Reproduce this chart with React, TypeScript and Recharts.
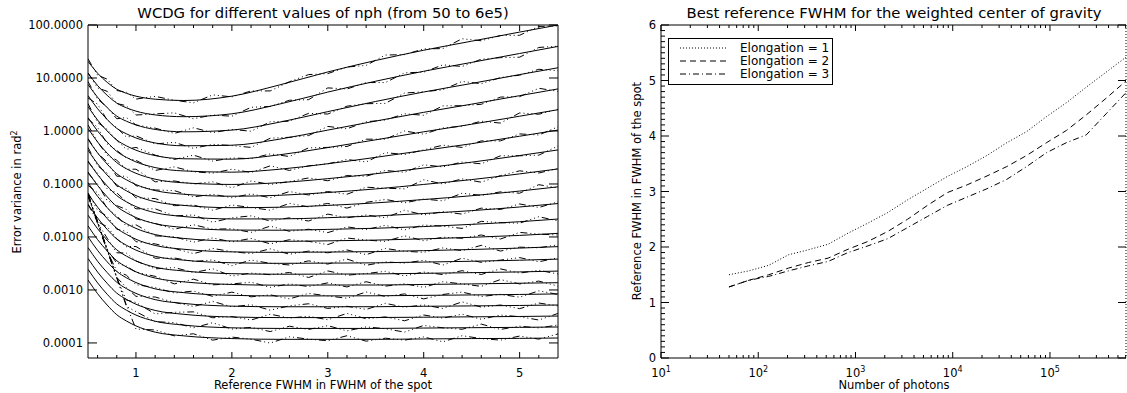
import React from "react";
import { LineChart, Line, XAxis, YAxis, Legend } from "recharts";

// ---- left panel: WCDG error variance vs reference FWHM, one pair of curves per nph ----
const fwhmFit = [0.5, 0.6, 0.7, 0.8, 0.9, 1.0, 1.2, 1.5, 2.0, 2.5, 3.0, 3.5, 4.0, 4.5, 5.0, 5.4];

// theoretical curves (solid), nph = 50 ... 6e5
const fitCurves: number[][] = [
  [20.6, 12.3, 8.28, 6.12, 5.14, 4.54, 3.98, 3.76, 4.54, 7.42, 13.0, 21.4, 33.4, 49.5, 73.5, 99.9],
  [12.4, 7.21, 4.71, 3.36, 2.74, 2.37, 2.01, 1.86, 2.11, 3.23, 5.42, 8.7, 13.4, 19.7, 29.0, 39.4],
  [7.58, 4.32, 2.76, 1.91, 1.53, 1.3, 1.07, 0.964, 1.04, 1.47, 2.32, 3.61, 5.44, 7.89, 11.6, 15.6],
  [4.66, 2.63, 1.65, 1.12, 0.885, 0.739, 0.594, 0.526, 0.539, 0.703, 1.04, 1.54, 2.25, 3.21, 4.64, 6.22],
  [2.89, 1.61, 1.0, 0.675, 0.525, 0.434, 0.343, 0.299, 0.294, 0.356, 0.486, 0.681, 0.964, 1.34, 1.9, 2.52],
  [1.79, 0.999, 0.617, 0.411, 0.318, 0.261, 0.204, 0.176, 0.167, 0.19, 0.241, 0.318, 0.428, 0.576, 0.796, 1.04],
  [1.12, 0.62, 0.381, 0.253, 0.194, 0.159, 0.123, 0.105, 0.098, 0.106, 0.126, 0.156, 0.2, 0.258, 0.344, 0.439],
  [0.697, 0.386, 0.237, 0.156, 0.12, 0.0974, 0.0751, 0.064, 0.0587, 0.0612, 0.069, 0.0807, 0.098, 0.121, 0.155, 0.192],
  [0.435, 0.241, 0.147, 0.0971, 0.0743, 0.0603, 0.0463, 0.0394, 0.0357, 0.0364, 0.0394, 0.044, 0.0509, 0.06, 0.0735, 0.0883],
  [0.271, 0.15, 0.0918, 0.0604, 0.0461, 0.0374, 0.0287, 0.0243, 0.0219, 0.0219, 0.0231, 0.0249, 0.0277, 0.0314, 0.0368, 0.0427],
  [0.169, 0.0937, 0.0573, 0.0376, 0.0287, 0.0233, 0.0178, 0.0151, 0.0135, 0.0134, 0.0139, 0.0146, 0.0157, 0.0173, 0.0194, 0.0218],
  [0.106, 0.0585, 0.0358, 0.0235, 0.0179, 0.0145, 0.0111, 0.00939, 0.0084, 0.00826, 0.00845, 0.00872, 0.00922, 0.00985, 0.0107, 0.0117],
  [0.0661, 0.0365, 0.0223, 0.0146, 0.0112, 0.00905, 0.00692, 0.00586, 0.00523, 0.00512, 0.00519, 0.00529, 0.00552, 0.0058, 0.00617, 0.00657],
  [0.0414, 0.0228, 0.0139, 0.00915, 0.00698, 0.00565, 0.00431, 0.00365, 0.00326, 0.00318, 0.00321, 0.00325, 0.00336, 0.00348, 0.00364, 0.00382],
  [0.0258, 0.0143, 0.00872, 0.00572, 0.00436, 0.00353, 0.00269, 0.00228, 0.00203, 0.00198, 0.00199, 0.00201, 0.00206, 0.00212, 0.00219, 0.00227],
  [0.0162, 0.00892, 0.00545, 0.00357, 0.00272, 0.0022, 0.00168, 0.00142, 0.00127, 0.00123, 0.00124, 0.00124, 0.00127, 0.0013, 0.00134, 0.00137],
  [0.0101, 0.00557, 0.0034, 0.00223, 0.0017, 0.00138, 0.00105, 0.000889, 0.000791, 0.000771, 0.000773, 0.000776, 0.00079, 0.000805, 0.000823, 0.000842],
  [0.00631, 0.00348, 0.00213, 0.0014, 0.00106, 0.000861, 0.000657, 0.000556, 0.000495, 0.000482, 0.000482, 0.000483, 0.000492, 0.0005, 0.00051, 0.00052],
  [0.00394, 0.00218, 0.00133, 0.000872, 0.000665, 0.000538, 0.000411, 0.000347, 0.000309, 0.000301, 0.000301, 0.000302, 0.000306, 0.000311, 0.000316, 0.000322],
  [0.00246, 0.00136, 0.000831, 0.000545, 0.000416, 0.000336, 0.000257, 0.000217, 0.000193, 0.000188, 0.000188, 0.000188, 0.000191, 0.000194, 0.000197, 0.0002],
  [0.00154, 0.00085, 0.000519, 0.000341, 0.00026, 0.00021, 0.00016, 0.000136, 0.000121, 0.000117, 0.000117, 0.000117, 0.000119, 0.000121, 0.000122, 0.000124],
];

const fwhmMeas = [0.5, 0.6, 0.7, 0.8, 0.9, 1.0, 1.2, 1.4, 1.6, 1.8, 2.0, 2.2, 2.4, 2.6, 2.8, 3.0, 3.2, 3.4, 3.6, 3.8, 4.0, 4.2, 4.4, 4.6, 4.8, 5.0, 5.2, 5.4];

// simulated measurements (dash-dot-dot-dot), same nph order
const measCurves: number[][] = [
  [23, 11.3, 9.5, 5.8, 5.4, 4.0, 4.5, 3.8, 3.4, 4.8, 4.4, 5.7, 5.7, 8.5, 11.6, 12.1, 16.1, 17.3, 27.1, 27.6, 35.4, 35.9, 55, 50.4, 63.3, 64, 94, 96],
  [12.4, 6.5, 5.6, 3.3, 3.0, 2.0, 2.1, 2.2, 1.7, 2.0, 1.9, 2.8, 2.9, 3.8, 3.9, 6.5, 6.2, 8.2, 8.2, 12.5, 12.9, 17.7, 16.5, 22.6, 24.2, 24.7, 37.7, 39.8],
  [8.6, 4.0, 2.8, 1.7, 1.8, 1.3, 1.13, 0.9, 1.15, 0.93, 1.07, 0.99, 1.49, 1.53, 2.15, 2.09, 2.94, 3.27, 3.32, 5.2, 5.5, 6.0, 8.6, 7.8, 10.2, 11.3, 14.6, 13.7],
  [4.2, 3.2, 1.6, 1.15, 0.77, 0.81, 0.57, 0.61, 0.47, 0.56, 0.53, 0.49, 0.73, 0.76, 0.82, 1.22, 1.1, 1.49, 1.61, 2.11, 1.98, 2.98, 3.0, 3.19, 4.36, 4.45, 6.39, 5.6],
  [3.3, 1.45, 1.07, 0.67, 0.45, 0.49, 0.35, 0.29, 0.35, 0.27, 0.31, 0.3, 0.37, 0.33, 0.48, 0.49, 0.51, 0.7, 0.7, 1.0, 0.87, 1.14, 1.23, 1.53, 1.41, 2.19, 2.07, 2.57],
  [1.7, 1.17, 0.57, 0.43, 0.31, 0.28, 0.18, 0.21, 0.17, 0.16, 0.19, 0.165, 0.22, 0.18, 0.22, 0.24, 0.29, 0.26, 0.39, 0.36, 0.44, 0.54, 0.49, 0.65, 0.65, 0.88, 0.84, 1.2],
  [1.3, 0.62, 0.35, 0.28, 0.19, 0.19, 0.11, 0.114, 0.1, 0.11, 0.085, 0.114, 0.098, 0.111, 0.13, 0.115, 0.144, 0.14, 0.18, 0.166, 0.23, 0.21, 0.26, 0.24, 0.34, 0.34, 0.35, 0.52],
  [0.72, 0.38, 0.26, 0.14, 0.14, 0.093, 0.077, 0.075, 0.057, 0.064, 0.055, 0.065, 0.055, 0.072, 0.062, 0.072, 0.064, 0.087, 0.083, 0.081, 0.12, 0.1, 0.125, 0.108, 0.144, 0.177, 0.161, 0.196],
  [0.49, 0.22, 0.16, 0.091, 0.082, 0.055, 0.053, 0.039, 0.04, 0.032, 0.04, 0.036, 0.032, 0.043, 0.037, 0.043, 0.035, 0.045, 0.051, 0.044, 0.052, 0.048, 0.067, 0.061, 0.071, 0.067, 0.097, 0.084],
  [0.26, 0.16, 0.081, 0.068, 0.046, 0.034, 0.034, 0.025, 0.026, 0.019, 0.023, 0.025, 0.02, 0.023, 0.02, 0.027, 0.023, 0.026, 0.023, 0.032, 0.026, 0.03, 0.027, 0.035, 0.033, 0.042, 0.036, 0.046],
  [0.16, 0.1, 0.049, 0.039, 0.033, 0.022, 0.018, 0.014, 0.017, 0.014, 0.0143, 0.0122, 0.016, 0.0128, 0.014, 0.0121, 0.0155, 0.0138, 0.0166, 0.0136, 0.0168, 0.016, 0.0145, 0.0197, 0.0186, 0.0182, 0.0241, 0.0201],
  [0.094, 0.068, 0.035, 0.025, 0.016, 0.017, 0.0105, 0.0101, 0.00798, 0.00959, 0.00806, 0.00939, 0.00742, 0.00887, 0.00827, 0.00718, 0.00956, 0.00874, 0.00825, 0.0105, 0.00848, 0.00989, 0.00945, 0.0109, 0.00915, 0.0122, 0.0113, 0.0109],
  [0.0681, 0.0318, 0.0245, 0.014, 0.0127, 0.00815, 0.0074, 0.00608, 0.00485, 0.00608, 0.00528, 0.00486, 0.00598, 0.00472, 0.00541, 0.00503, 0.00569, 0.00464, 0.00606, 0.00538, 0.00513, 0.00622, 0.00552, 0.00695, 0.00542, 0.00642, 0.00626, 0.0071],
  [0.041, 0.0194, 0.0156, 0.00924, 0.00656, 0.00661, 0.00397, 0.00401, 0.00345, 0.00368, 0.00287, 0.00367, 0.00318, 0.00296, 0.00354, 0.00308, 0.00383, 0.00292, 0.00339, 0.00321, 0.00363, 0.00295, 0.00398, 0.00332, 0.00366, 0.00408, 0.0034, 0.00405],
  [0.066, 0.0184, 0.0095, 0.00503, 0.00497, 0.00353, 0.0025, 0.00265, 0.00213, 0.00251, 0.00183, 0.00208, 0.00194, 0.00214, 0.00172, 0.00229, 0.0019, 0.00204, 0.00225, 0.00184, 0.00218, 0.00195, 0.00231, 0.00196, 0.0025, 0.00208, 0.00235, 0.002],
  [0.062, 0.0193, 0.0058, 0.00321, 0.00283, 0.00216, 0.00181, 0.0013, 0.0016, 0.00125, 0.0013, 0.0014, 0.00112, 0.0013, 0.00116, 0.00136, 0.00114, 0.00143, 0.00118, 0.00131, 0.00112, 0.00143, 0.0013, 0.00117, 0.00157, 0.0013, 0.00147, 0.00118],
  [0.059, 0.0178, 0.0054, 0.00227, 0.0019, 0.00126, 0.00111, 0.000876, 0.000954, 0.000758, 0.00091, 0.000741, 0.000809, 0.000678, 0.000862, 0.000773, 0.000697, 0.000915, 0.000753, 0.000842, 0.000679, 0.000822, 0.000912, 0.000753, 0.000826, 0.00073, 0.000963, 0.000823],
  [0.065, 0.0186, 0.0059, 0.00172, 0.00111, 0.000758, 0.000736, 0.000583, 0.000488, 0.000608, 0.00048, 0.000527, 0.000415, 0.000501, 0.000549, 0.000448, 0.000492, 0.000429, 0.000559, 0.000472, 0.000522, 0.000448, 0.000596, 0.000475, 0.00052, 0.000444, 0.000567, 0.0005],
  [0.061, 0.0195, 0.0056, 0.00168, 0.000645, 0.000581, 0.000353, 0.000379, 0.000386, 0.000299, 0.000315, 0.000271, 0.000349, 0.000295, 0.000319, 0.000274, 0.000361, 0.000286, 0.00031, 0.000262, 0.000337, 0.000294, 0.000349, 0.00028, 0.000336, 0.000313, 0.000271, 0.000361],
  [0.063, 0.0188, 0.0057, 0.00173, 0.00049, 0.00039, 0.000252, 0.000242, 0.000193, 0.000241, 0.000183, 0.000197, 0.000164, 0.000207, 0.00018, 0.000212, 0.000169, 0.000201, 0.000186, 0.00016, 0.000214, 0.000193, 0.000181, 0.000227, 0.00018, 0.000207, 0.000192, 0.000218],
  [0.064, 0.0192, 0.0058, 0.0017, 0.00052, 0.000183, 0.000176, 0.000136, 0.000149, 0.000113, 0.000129, 0.000118, 0.0000995, 0.000131, 0.000118, 0.00011, 0.000137, 0.000108, 0.000123, 0.000113, 0.00013, 0.000105, 0.000137, 0.000121, 0.000113, 0.000135, 0.000118, 0.000148],
];

const varTicks = [0.0001, 0.001, 0.01, 0.1, 1, 10, 100];
const fwhmMajor = [1, 2, 3, 4, 5];
const fwhmMinor = [0.6, 0.8, 1.2, 1.4, 1.6, 1.8, 2.2, 2.4, 2.6, 2.8, 3.2, 3.4, 3.6, 3.8, 4.2, 4.4, 4.6, 4.8, 5.2];

// ---- right panel: best reference FWHM vs number of photons ----
const photons = [50, 80, 128, 205, 328, 524, 839, 1342, 2147, 3436, 5498, 8796, 14074, 22518, 36029, 57646, 92234, 147574, 236118, 377789, 604462];
const elong1 = [1.5, 1.57, 1.67, 1.86, 1.95, 2.05, 2.25, 2.43, 2.62, 2.85, 3.06, 3.27, 3.45, 3.65, 3.88, 4.08, 4.35, 4.6, 4.88, 5.15, 5.42];
const elong2 = [1.28, 1.4, 1.5, 1.62, 1.72, 1.8, 1.96, 2.1, 2.28, 2.5, 2.75, 2.98, 3.12, 3.28, 3.45, 3.65, 3.88, 4.1, 4.38, 4.68, 4.99];
const elong3 = [1.28, 1.4, 1.47, 1.57, 1.66, 1.74, 1.9, 2.02, 2.15, 2.35, 2.55, 2.75, 2.9, 3.05, 3.22, 3.45, 3.7, 3.88, 4.02, 4.4, 4.78];
const elongLabels = ["Elongation = 1", "Elongation = 2", "Elongation = 3"];
const elongDash = ["1 2", "6 4", "6 3 1 3"];

const photonMajor = [10, 100, 1000, 10000, 100000];
const photonMinor = [
  20, 30, 40, 50, 60, 70, 80, 90,
  200, 300, 400, 500, 600, 700, 800, 900,
  2000, 3000, 4000, 5000, 6000, 7000, 8000, 9000,
  20000, 30000, 40000, 50000, 60000, 70000, 80000, 90000,
  200000, 300000, 400000, 500000, 600000,
];
const refMajor = [0, 1, 2, 3, 4, 5, 6];
const refMinor = Array.from({ length: 61 }, (_, i) => i / 10).filter((v) => !Number.isInteger(v));

const FONT = "'DejaVu Sans', sans-serif";
const tickStyle = { fontFamily: FONT, fontSize: 11.5, fill: "#000" };

const bottomTick = (majors: number[], fmt: (v: number) => React.ReactNode) => (p: any) => {
  const v = p.payload.value;
  const big = majors.includes(v);
  return (
    <g>
      <line x1={p.x} x2={p.x} y1={p.y} y2={p.y - (big ? 6 : 3)} stroke="#000" />
      {big && (
        <text x={p.x} y={p.y + 19} textAnchor="middle" style={tickStyle}>
          {fmt(v)}
        </text>
      )}
    </g>
  );
};

const topTick = (majors: number[]) => (p: any) => {
  const big = majors.includes(p.payload.value);
  return <line x1={p.x} x2={p.x} y1={p.y} y2={p.y + (big ? 6 : 3)} stroke="#000" />;
};

const leftTick = (majors: number[], fmt: (v: number) => string, len: number, minorLen: number) => (p: any) => {
  const v = p.payload.value;
  const big = majors.includes(v);
  return (
    <g>
      <line x1={p.x} x2={p.x + (big ? len : minorLen)} y1={p.y} y2={p.y} stroke="#000" />
      {big && (
        <text x={p.x - 5} y={p.y} dy="0.36em" textAnchor="end" style={tickStyle}>
          {fmt(v)}
        </text>
      )}
    </g>
  );
};

const rightTick = (len: number) => (p: any) => (
  <line x1={p.x} x2={p.x - len} y1={p.y} y2={p.y} stroke="#000" />
);

const powerLabel = (v: number) => (
  <>
    10
    <tspan dy={-5} fontSize={8}>
      {Math.round(Math.log10(v))}
    </tspan>
  </>
);

const LegendBox = () => (
  <svg width={165} height={47} style={{ display: "block" }}>
    <rect x={0.5} y={0.5} width={164} height={46} fill="#fff" stroke="#000" />
    {elongLabels.map((t, i) => (
      <g key={t}>
        <line x1={12} x2={58} y1={10 + i * 13} y2={10 + i * 13} stroke="#000" strokeDasharray={elongDash[i]} />
        <text x={72} y={10 + i * 13} dy="0.36em" style={{ ...tickStyle, fontSize: 12 }}>
          {t}
        </text>
      </g>
    ))}
  </svg>
);

const axisLine = { stroke: "#000" };

export default function App() {
  const photonRows = photons.map((n, i) => ({ n, e1: elong1[i], e2: elong2[i], e3: elong3[i] }));

  return (
    <div style={{ position: "absolute", left: 0, top: 0, width: 1127, height: 393, background: "#fff" }}>
      <div style={{ position: "absolute", left: 0, top: 0 }}>
        <LineChart width={600} height={393} margin={{ top: 24, right: 41, bottom: 34, left: 87 }}>
          <XAxis xAxisId="b" type="number" dataKey="x" domain={[0.5, 5.4]} allowDataOverflow
            ticks={[...fwhmMajor, ...fwhmMinor]} interval={0} height={1} tickSize={0} tickMargin={0}
            tickLine={false} axisLine={axisLine} tick={bottomTick(fwhmMajor, (v) => String(v))} />
          <XAxis xAxisId="t" orientation="top" type="number" dataKey="x" domain={[0.5, 5.4]} allowDataOverflow
            ticks={[...fwhmMajor, ...fwhmMinor]} interval={0} height={1} tickSize={0} tickMargin={0}
            tickLine={false} axisLine={axisLine} tick={topTick(fwhmMajor)} />
          <YAxis yAxisId="l" type="number" scale="log" domain={[5.2e-5, 100]} allowDataOverflow
            ticks={varTicks} interval={0} width={1} tickSize={0} tickMargin={0} tickLine={false}
            axisLine={axisLine} tick={leftTick(varTicks, (v) => v.toFixed(4), 9, 4)} />
          <YAxis yAxisId="r" orientation="right" type="number" scale="log" domain={[5.2e-5, 100]} allowDataOverflow
            ticks={varTicks} interval={0} width={1} tickSize={0} tickMargin={0} tickLine={false}
            axisLine={axisLine} tick={rightTick(9)} />
          {measCurves.map((c, i) => (
            <Line key={"m" + i} xAxisId="b" yAxisId="l" data={c.map((v, j) => ({ x: fwhmMeas[j], v }))}
              dataKey="v" type="linear" stroke="#000" strokeWidth={1} strokeDasharray="7 3 1 3 1 3 1 3"
              dot={false} activeDot={false} isAnimationActive={false} />
          ))}
          {fitCurves.map((c, i) => (
            <Line key={"f" + i} xAxisId="b" yAxisId="l" data={c.map((v, j) => ({ x: fwhmFit[j], v }))}
              dataKey="v" type="monotone" stroke="#000" strokeWidth={1}
              dot={false} activeDot={false} isAnimationActive={false} />
          ))}
        </LineChart>
      </div>

      <div style={{ position: "absolute", left: 600, top: 0 }}>
        <LineChart width={527} height={393} data={photonRows} margin={{ top: 24, right: 0, bottom: 34, left: 60 }}>
          <XAxis xAxisId="b" type="number" dataKey="n" scale="log" domain={[10, 605000]} allowDataOverflow
            ticks={[...photonMajor, ...photonMinor]} interval={0} height={1} tickSize={0} tickMargin={0}
            tickLine={false} axisLine={axisLine} tick={bottomTick(photonMajor, powerLabel)} />
          <XAxis xAxisId="t" orientation="top" type="number" dataKey="n" scale="log" domain={[10, 605000]} allowDataOverflow
            ticks={[...photonMajor, ...photonMinor]} interval={0} height={1} tickSize={0} tickMargin={0}
            tickLine={false} axisLine={axisLine} tick={topTick(photonMajor)} />
          <YAxis yAxisId="l" type="number" domain={[0, 6]} allowDataOverflow
            ticks={[...refMajor, ...refMinor]} interval={0} width={1} tickSize={0} tickMargin={0}
            tickLine={false} axisLine={axisLine} tick={leftTick(refMajor, (v) => String(v), 8, 4)} />
          <YAxis yAxisId="r" orientation="right" type="number" domain={[0, 6]} allowDataOverflow
            ticks={refMajor} interval={0} width={1} tickSize={0} tickMargin={0} tickLine={false}
            axisLine={{ stroke: "#000", strokeDasharray: "1 2" }} tick={rightTick(8)} />
          <Line xAxisId="b" yAxisId="l" dataKey="e1" name={elongLabels[0]} type="linear" stroke="#000"
            strokeDasharray={elongDash[0]} dot={false} activeDot={false} isAnimationActive={false} />
          <Line xAxisId="b" yAxisId="l" dataKey="e2" name={elongLabels[1]} type="linear" stroke="#000"
            strokeDasharray={elongDash[1]} dot={false} activeDot={false} isAnimationActive={false} />
          <Line xAxisId="b" yAxisId="l" dataKey="e3" name={elongLabels[2]} type="linear" stroke="#000"
            strokeDasharray={elongDash[2]} dot={false} activeDot={false} isAnimationActive={false} />
          <Legend layout="horizontal" verticalAlign="middle" align="center"
            wrapperStyle={{ left: 68, top: 38, width: 165 }} content={() => <LegendBox />} />
        </LineChart>
      </div>

      <svg width={1127} height={393} style={{ position: "absolute", left: 0, top: 0, pointerEvents: "none" }}
        fontFamily={FONT} fill="#000">
        <text x={323} y={18} textAnchor="middle" fontSize={14.8}>WCDG for different values of nph (from 50 to 6e5)</text>
        <text x={894} y={18} textAnchor="middle" fontSize={14.8}>Best reference FWHM for the weighted center of gravity</text>
        <text x={323} y={389} textAnchor="middle" fontSize={11.5}>Reference FWHM in FWHM of the spot</text>
        <text x={894} y={389} textAnchor="middle" fontSize={11.5}>Number of photons</text>
        <text x={21} y={192} textAnchor="middle" fontSize={11.5} transform="rotate(-90 21 192)">
          Error variance in rad<tspan dy={-4} fontSize={8}>2</tspan>
        </text>
        <text x={641} y={191} textAnchor="middle" fontSize={11.5} transform="rotate(-90 641 191)">
          Reference FWHM in FWHM of the spot
        </text>
      </svg>
    </div>
  );
}
